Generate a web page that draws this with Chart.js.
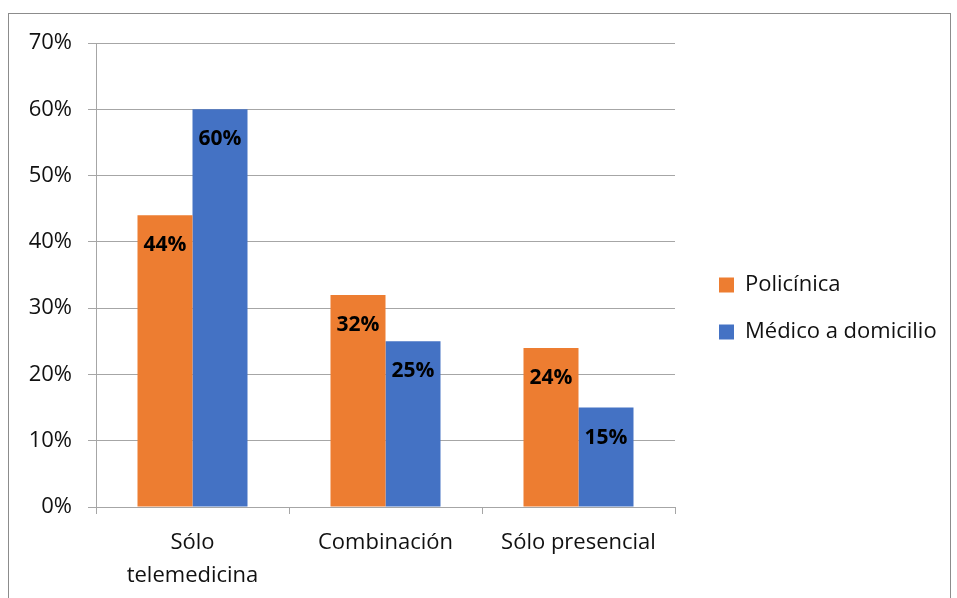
<!DOCTYPE html>
<html>
<head>
<meta charset="utf-8">
<script src="https://cdn.jsdelivr.net/npm/chart.js@4/dist/chart.umd.min.js"></script>
<style>
  html, body { margin: 0; padding: 0; background: #fff; }
  #wrap { position: relative; width: 957px; height: 598px; overflow: hidden; }
  #frame { position: absolute; left: 8px; top: 13px; width: 943px; height: 620px; border: 1px solid #8c8c8c; box-sizing: border-box; }
  #chart { position: absolute; left: 0; top: 0; }
</style>
</head>
<body>
<div id="wrap">
  <div id="frame"></div>
  <canvas id="chart" width="957" height="598"></canvas>
</div>
<script>
const categories = [["Sólo", "telemedicina"], "Combinación", "Sólo presencial"];
const seriesNames = ["Policínica", "Médico a domicilio"];
const policlinicaValues = [44, 32, 24];
const domicilioValues = [60, 25, 15];
const yTicks = [0, 10, 20, 30, 40, 50, 60, 70];

const ORANGE = "#ED7D31";
const BLUE = "#4472C4";
const GRID = "#a6a6a6";
const TEXT = "#111";
const FONT = "'Open Sans', sans-serif";
const LEGEND_WIDTH = 282;

Chart.defaults.font.family = FONT;
Chart.defaults.color = TEXT;

// value labels drawn inside the top of each bar
const barValueLabels = {
  id: "barValueLabels",
  afterDatasetsDraw(chart) {
    const ctx = chart.ctx;
    ctx.save();
    ctx.font = `bold 21px ${FONT}`;
    ctx.fillStyle = "#000";
    ctx.textAlign = "center";
    ctx.textBaseline = "middle";
    chart.data.datasets.forEach((ds, i) => {
      chart.getDatasetMeta(i).data.forEach((bar, j) => {
        ctx.fillText(`${ds.data[j]}%`, bar.x, bar.y + 30);
      });
    });
    ctx.restore();
  }
};

// fixed-width legend column, items pushed a bit away from the plot
const legendBox = {
  id: "legendBox",
  beforeLayout(chart) {
    const lg = chart.legend;
    if (!lg || lg._fixedFit) return;
    const fit = lg.fit;
    lg.fit = function () {
      fit.call(this);
      this.width = LEGEND_WIDTH;
    };
    lg._fixedFit = true;
  },
  afterLayout(chart) {
    const lg = chart.legend;
    if (!lg) return;
    lg.left += 19;
    lg.right += 19;
    lg.top -= 12;
    lg.bottom -= 12;
  }
};

function drawChart() {
  new Chart(document.getElementById("chart"), {
    type: "bar",
    data: {
      labels: categories,
      datasets: [
        { label: seriesNames[0], data: policlinicaValues, backgroundColor: ORANGE, borderWidth: 0 },
        { label: seriesNames[1], data: domicilioValues, backgroundColor: BLUE, borderWidth: 0 }
      ]
    },
    options: {
      responsive: false,
      animation: false,
      layout: { padding: { top: 43, right: 0, bottom: 0, left: 0 } },
      datasets: { bar: { categoryPercentage: 0.57, barPercentage: 1 } },
      plugins: {
        legend: {
          position: "right",
          labels: {
            boxWidth: 15,
            boxHeight: 15,
            padding: 25,
            color: TEXT,
            font: { size: 22 }
          }
        },
        tooltip: { enabled: false }
      },
      scales: {
        x: {
          afterFit(scale) { scale.height = 91; },
          grid: { drawOnChartArea: false, tickLength: 7, color: GRID },
          border: { color: GRID },
          ticks: { padding: 12, color: TEXT, font: { size: 22, lineHeight: 1.5 } }
        },
        y: {
          min: yTicks[0],
          max: yTicks[yTicks.length - 1],
          afterFit(scale) { scale.width = 96; },
          afterBuildTicks(scale) { scale.ticks = yTicks.map((v) => ({ value: v })); },
          grid: { color: GRID, tickLength: 8 },
          border: { color: GRID },
          ticks: { padding: 16, color: TEXT, font: { size: 22 }, callback: (v) => `${v}%` }
        }
      }
    },
    plugins: [barValueLabels, legendBox]
  });
}

Promise.all([
  document.fonts.load(`22px ${FONT}`),
  document.fonts.load(`bold 21px ${FONT}`)
]).catch(() => {}).then(drawChart);
</script>
</body>
</html>
